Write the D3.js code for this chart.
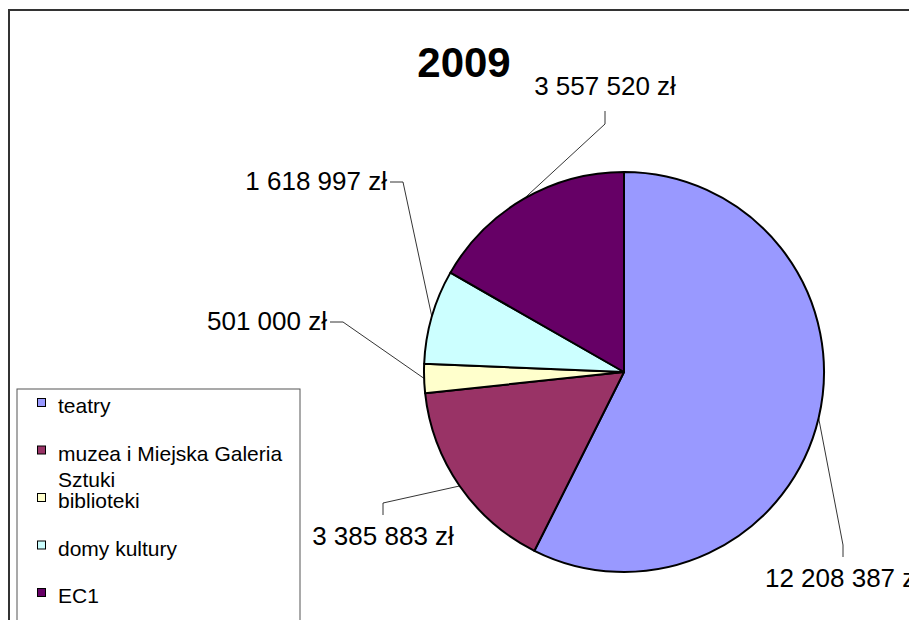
<!DOCTYPE html>
<html>
<head>
<meta charset="utf-8">
<script src="https://cdn.jsdelivr.net/npm/d3@7"></script>
<style>
  html, body { margin: 0; padding: 0; background: #fff; overflow: hidden; }
  svg { display: block; font-family: "Liberation Sans", Arial, sans-serif; }
</style>
</head>
<body>
<div id="chart"></div>
<script>
// data
const categories = ["teatry", "muzea i Miejska Galeria Sztuki", "biblioteki", "domy kultury", "EC1"];
const values = [12208387, 3385883, 501000, 1618997, 3557520];
const colors = ["#9999FF", "#993366", "#FFFFCC", "#CCFFFF", "#660066"];
const title = "2009";

// label layout: elbow offset from pie centre, and which side the text sits on
const labelLayout = [
    { dx: 219, dy: 173, side: "below" },
    { dx: -241, dy: 131, side: "below" },
    { dx: -281, dy: -50, side: "left" },
    { dx: -221, dy: -190, side: "left" },
    { dx: -19, dy: -248, side: "above" }
];

const width = 909, height = 620;
const cx = 624, cy = 372, radius = 200;

const fmt = v => d3.format(",")(v).replace(/,/g, " ") + " zł";

const svg = d3.select("#chart").append("svg")
    .attr("width", width)
    .attr("height", height);

// chart frame
svg.append("rect")
    .attr("x", 9).attr("y", 10)
    .attr("width", width + 20).attr("height", height + 20)
    .attr("fill", "#fff")
    .attr("stroke", "#333")
    .attr("stroke-width", 2);

svg.append("text")
    .attr("x", 464).attr("y", 77)
    .attr("text-anchor", "middle")
    .attr("font-size", 42)
    .attr("font-weight", "bold")
    .text(title);

const pie = d3.pie().sort(null).startAngle(0).endAngle(2 * Math.PI);
const arcs = pie(values);
const arc = d3.arc().innerRadius(0).outerRadius(radius);

const g = svg.append("g").attr("transform", `translate(${cx},${cy})`);

g.selectAll("path.slice")
    .data(arcs)
    .join("path")
    .attr("class", "slice")
    .attr("d", arc)
    .attr("fill", (d, i) => colors[i])
    .attr("stroke", "#000")
    .attr("stroke-width", 2)
    .attr("stroke-linejoin", "round");

// leader lines + labels
arcs.forEach((d, i) => {
    const mid = (d.startAngle + d.endAngle) / 2;
    const ex = radius * Math.sin(mid), ey = -radius * Math.cos(mid);
    const L = labelLayout[i];
    let pts, tx, ty, anchor;
    if (L.side === "below") {
        pts = [[ex, ey], [L.dx, L.dy], [L.dx, L.dy + 12]];
        tx = L.dx; ty = L.dy + 42; anchor = "middle";
    } else if (L.side === "above") {
        pts = [[ex, ey], [L.dx, L.dy], [L.dx, L.dy - 13]];
        tx = L.dx; ty = L.dy - 29; anchor = "middle";
    } else {
        pts = [[ex, ey], [L.dx, L.dy], [L.dx - 13, L.dy]];
        tx = L.dx - 16; ty = L.dy + 8; anchor = "end";
    }
    g.append("path")
        .attr("d", d3.line()(pts))
        .attr("fill", "none")
        .attr("stroke", "#000")
        .attr("stroke-width", 0.8);
    g.append("text")
        .attr("x", tx).attr("y", ty)
        .attr("text-anchor", anchor)
        .attr("font-size", 26)
        .text(fmt(values[i]));
});

// legend
const legend = svg.append("g");
legend.append("rect")
    .attr("x", 17).attr("y", 389)
    .attr("width", 283).attr("height", 300)
    .attr("fill", "#fff")
    .attr("stroke", "#555")
    .attr("stroke-width", 1);

const rowY = d3.scalePoint().domain(d3.range(categories.length)).range([413, 603]);

categories.forEach((c, i) => {
    const y = rowY(i);
    legend.append("rect")
        .attr("x", 37.5).attr("y", y - 14.5)
        .attr("width", 8).attr("height", 8)
        .attr("fill", colors[i])
        .attr("stroke", "#000")
        .attr("stroke-width", 1);
    const t = legend.append("text")
        .attr("x", 58).attr("y", y)
        .attr("font-size", 21);
    // simple word wrap
    const words = c.split(" ");
    let line = [], tspan = t.append("tspan").attr("x", 58).attr("dy", 0);
    words.forEach(w => {
        line.push(w);
        tspan.text(line.join(" "));
        if (tspan.node().getComputedTextLength() > 235 && line.length > 1) {
            line.pop();
            tspan.text(line.join(" "));
            line = [w];
            tspan = t.append("tspan").attr("x", 58).attr("dy", 26.5).text(w);
        }
    });
});
</script>
</body>
</html>
